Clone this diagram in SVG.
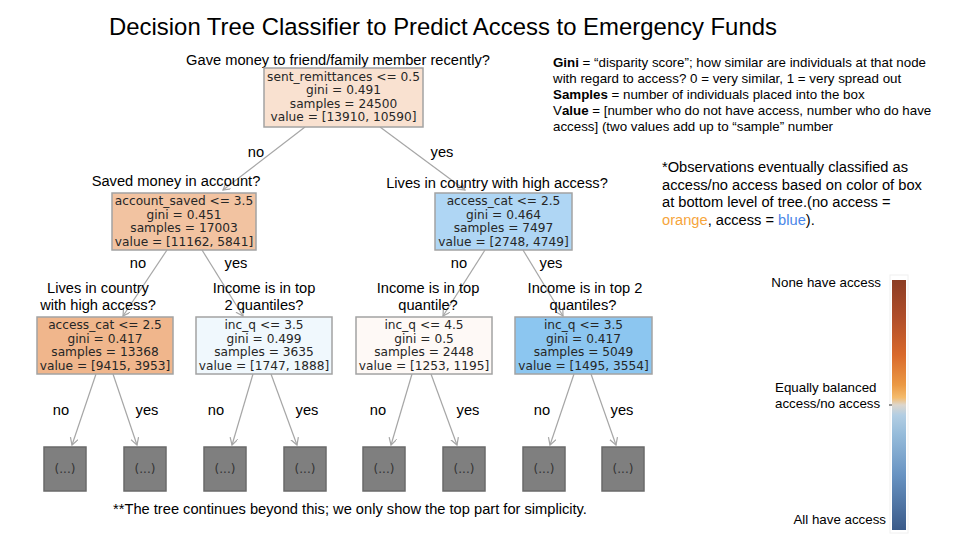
<svg xmlns="http://www.w3.org/2000/svg" width="960" height="540" viewBox="0 0 960 540">
<style>
.q{font-family:"Liberation Sans",Arial,sans-serif;font-size:14.67px;fill:#000;text-anchor:middle}
.lbl{font-family:"Liberation Sans",Arial,sans-serif;font-size:14.67px;fill:#000;text-anchor:middle}
.nt{font-family:"DejaVu Sans",sans-serif;font-size:12.2px;fill:#262626;text-anchor:middle}
.box{stroke:#a3a3a3;stroke-width:1.5}
.leaf{fill:#7f7f7f;stroke:#6a6a6a;stroke-width:1.5}
.lt{font-family:"DejaVu Sans",sans-serif;font-size:12px;fill:#333;text-anchor:middle}
.leg{font-family:"Liberation Sans",Arial,sans-serif;font-size:13.33px;fill:#000}
.obs{font-family:"Liberation Sans",Arial,sans-serif;font-size:14.67px;fill:#000}
.cb{font-family:"Liberation Sans",Arial,sans-serif;font-size:13.33px;fill:#000}
.edge{stroke:#a6a6a6;stroke-width:1.2;fill:none;marker-end:url(#ah)}
</style>
<defs>
<marker id="ah" markerUnits="userSpaceOnUse" markerWidth="10" markerHeight="10" refX="7" refY="4" orient="auto">
<path d="M0,0 L7,4 L0,8" fill="none" stroke="#a6a6a6" stroke-width="1.2"/>
</marker>
<linearGradient id="cmap" x1="0" y1="0" x2="0" y2="1">
<stop offset="0" stop-color="#8c3d24"/>
<stop offset="0.15" stop-color="#b04e2a"/>
<stop offset="0.3" stop-color="#d9692b"/>
<stop offset="0.42" stop-color="#eb9944"/>
<stop offset="0.47" stop-color="#f4bb6c"/>
<stop offset="0.5" stop-color="#dcd6cd"/>
<stop offset="0.54" stop-color="#b3cee3"/>
<stop offset="0.62" stop-color="#95bbda"/>
<stop offset="0.78" stop-color="#6893c2"/>
<stop offset="1" stop-color="#3a5a89"/>
</linearGradient>
</defs>
<rect width="960" height="540" fill="#fff"/>
<text x="443" y="35" font-family="Liberation Sans, Arial, sans-serif" font-size="23.9" text-anchor="middle" fill="#000">Decision Tree Classifier to Predict Access to Emergency Funds</text>

<g id="connectors">
<line class="edge" x1="305" y1="127" x2="223" y2="190"/>
<line class="edge" x1="380" y1="127" x2="465" y2="190"/>
<line class="edge" x1="167" y1="250" x2="123" y2="316"/>
<line class="edge" x1="202" y1="250" x2="243" y2="316"/>
<line class="edge" x1="485" y1="250" x2="443" y2="316"/>
<line class="edge" x1="523" y1="250" x2="563" y2="316"/>
<line class="edge" x1="96" y1="374" x2="72" y2="445"/>
<line class="edge" x1="113" y1="374" x2="137" y2="445"/>
<line class="edge" x1="253" y1="374" x2="232" y2="445"/>
<line class="edge" x1="271" y1="374" x2="297" y2="445"/>
<line class="edge" x1="412" y1="374" x2="391" y2="445"/>
<line class="edge" x1="431" y1="374" x2="457" y2="445"/>
<line class="edge" x1="574" y1="374" x2="550" y2="445"/>
<line class="edge" x1="591" y1="374" x2="616" y2="445"/>
<text class="lbl" x="256" y="157">no</text>
<text class="lbl" x="442" y="157">yes</text>
<text class="lbl" x="138" y="268">no</text>
<text class="lbl" x="236" y="268">yes</text>
<text class="lbl" x="459" y="268">no</text>
<text class="lbl" x="551" y="268">yes</text>
<text class="lbl" x="61" y="415">no</text>
<text class="lbl" x="147" y="415">yes</text>
<text class="lbl" x="216" y="415">no</text>
<text class="lbl" x="307" y="415">yes</text>
<text class="lbl" x="378" y="415">no</text>
<text class="lbl" x="468" y="415">yes</text>
<text class="lbl" x="542" y="415">no</text>
<text class="lbl" x="622" y="415">yes</text>
</g>

<g id="root">
<text class="q" x="338" y="65">Gave money to friend/family member recently?</text>
<rect class="box" x="264" y="68" width="159" height="59" fill="#f9e1d0"/>
<text class="nt" x="343.5" y="80.5">sent_remittances &lt;= 0.5</text>
<text class="nt" x="343.5" y="94">gini = 0.491</text>
<text class="nt" x="343.5" y="107.5">samples = 24500</text>
<text class="nt" x="343.5" y="121">value = [13910, 10590]</text>
</g>

<g id="n_saved">
<text class="q" x="176" y="186">Saved money in account?</text>
<rect class="box" x="112" y="193" width="144" height="57" fill="#f2c3a1"/>
<text class="nt" x="184" y="205">account_saved &lt;= 3.5</text>
<text class="nt" x="184" y="218.5">gini = 0.451</text>
<text class="nt" x="184" y="232">samples = 17003</text>
<text class="nt" x="184" y="245.5">value = [11162, 5841]</text>
</g>

<g id="n_country">
<text class="q" x="497" y="188">Lives in country with high access?</text>
<rect class="box" x="435" y="193" width="137" height="57" fill="#afd6f4"/>
<text class="nt" x="503.5" y="205">access_cat &lt;= 2.5</text>
<text class="nt" x="503.5" y="218.5">gini = 0.464</text>
<text class="nt" x="503.5" y="232">samples = 7497</text>
<text class="nt" x="503.5" y="245.5">value = [2748, 4749]</text>
</g>

<g id="n_a">
<text class="q" x="98" y="293">Lives in country</text>
<text class="q" x="98" y="310">with high access?</text>
<rect class="box" x="37" y="317" width="136" height="57" fill="#f0b68c"/>
<text class="nt" x="105" y="329">access_cat &lt;= 2.5</text>
<text class="nt" x="105" y="342.5">gini = 0.417</text>
<text class="nt" x="105" y="356">samples = 13368</text>
<text class="nt" x="105" y="369.5">value = [9415, 3953]</text>
</g>

<g id="n_b">
<text class="q" x="264" y="293">Income is in top</text>
<text class="q" x="264" y="310">2 quantiles?</text>
<rect class="box" x="196" y="317" width="136" height="57" fill="#f0f8fd"/>
<text class="nt" x="264" y="329">inc_q &lt;= 3.5</text>
<text class="nt" x="264" y="342.5">gini = 0.499</text>
<text class="nt" x="264" y="356">samples = 3635</text>
<text class="nt" x="264" y="369.5">value = [1747, 1888]</text>
</g>

<g id="n_c">
<text class="q" x="428" y="293">Income is in top</text>
<text class="q" x="428" y="310">quantile?</text>
<rect class="box" x="356" y="317" width="136" height="57" fill="#fef9f6"/>
<text class="nt" x="424" y="329">inc_q &lt;= 4.5</text>
<text class="nt" x="424" y="342.5">gini = 0.5</text>
<text class="nt" x="424" y="356">samples = 2448</text>
<text class="nt" x="424" y="369.5">value = [1253, 1195]</text>
</g>

<g id="n_d">
<text class="q" x="585" y="293">Income is in top 2</text>
<text class="q" x="583" y="310">quantiles?</text>
<rect class="box" x="515" y="317" width="137" height="57" fill="#8cc6f0"/>
<text class="nt" x="583.5" y="329">inc_q &lt;= 3.5</text>
<text class="nt" x="583.5" y="342.5">gini = 0.417</text>
<text class="nt" x="583.5" y="356">samples = 5049</text>
<text class="nt" x="583.5" y="369.5">value = [1495, 3554]</text>
</g>

<g id="leaf1"><rect class="leaf" x="44" y="447" width="42" height="44"/><text class="lt" x="65" y="473">(...)</text></g>
<g id="leaf2"><rect class="leaf" x="124" y="447" width="42" height="44"/><text class="lt" x="145" y="473">(...)</text></g>
<g id="leaf3"><rect class="leaf" x="204" y="447" width="42" height="44"/><text class="lt" x="225" y="473">(...)</text></g>
<g id="leaf4"><rect class="leaf" x="284" y="447" width="42" height="44"/><text class="lt" x="305" y="473">(...)</text></g>
<g id="leaf5"><rect class="leaf" x="363" y="447" width="42" height="44"/><text class="lt" x="384" y="473">(...)</text></g>
<g id="leaf6"><rect class="leaf" x="443" y="447" width="42" height="44"/><text class="lt" x="464" y="473">(...)</text></g>
<g id="leaf7"><rect class="leaf" x="523" y="447" width="42" height="44"/><text class="lt" x="544" y="473">(...)</text></g>
<g id="leaf8"><rect class="leaf" x="602" y="447" width="42" height="44"/><text class="lt" x="623" y="473">(...)</text></g>

<text class="obs" x="350" y="514" text-anchor="middle">**The tree continues beyond this; we only show the top part for simplicity.</text>

<g id="legend">
<text class="leg" x="553" y="67"><tspan font-weight="bold">Gini</tspan> = “disparity score”; how similar are individuals at that node</text>
<text class="leg" x="553" y="83">with regard to access? 0 = very similar, 1 = very spread out</text>
<text class="leg" x="553" y="99"><tspan font-weight="bold">Samples</tspan> = number of individuals placed into the box</text>
<text class="leg" x="553" y="115"><tspan font-weight="normal">V</tspan><tspan font-weight="bold">alue</tspan> = [number who do not have access, number who do have</text>
<text class="leg" x="553" y="131">access] (two values add up to “sample” number</text>
<text class="obs" x="662" y="172">*Observations eventually classified as</text>
<text class="obs" x="662" y="190">access/no access based on color of box</text>
<text class="obs" x="662" y="207">at bottom level of tree.(no access =</text>
<text class="obs" x="662" y="225"><tspan fill="#f6a53c">orange</tspan>, access = <tspan fill="#4a86e8">blue</tspan>).</text>
</g>

<g id="colorbar">
<rect x="890" y="275" width="18" height="258" fill="none" stroke="#f0f0f0" stroke-width="1"/>
<rect x="892" y="280" width="14" height="250" fill="url(#cmap)"/>
<line x1="889" y1="405" x2="892" y2="405" stroke="#333" stroke-width="1"/>
<text class="cb" x="881" y="287" text-anchor="end">None have access</text>
<text class="cb" x="775" y="392">Equally balanced</text>
<text class="cb" x="775" y="408">access/no access</text>
<text class="cb" x="886" y="524" text-anchor="end">All have access</text>
</g>
</svg>
